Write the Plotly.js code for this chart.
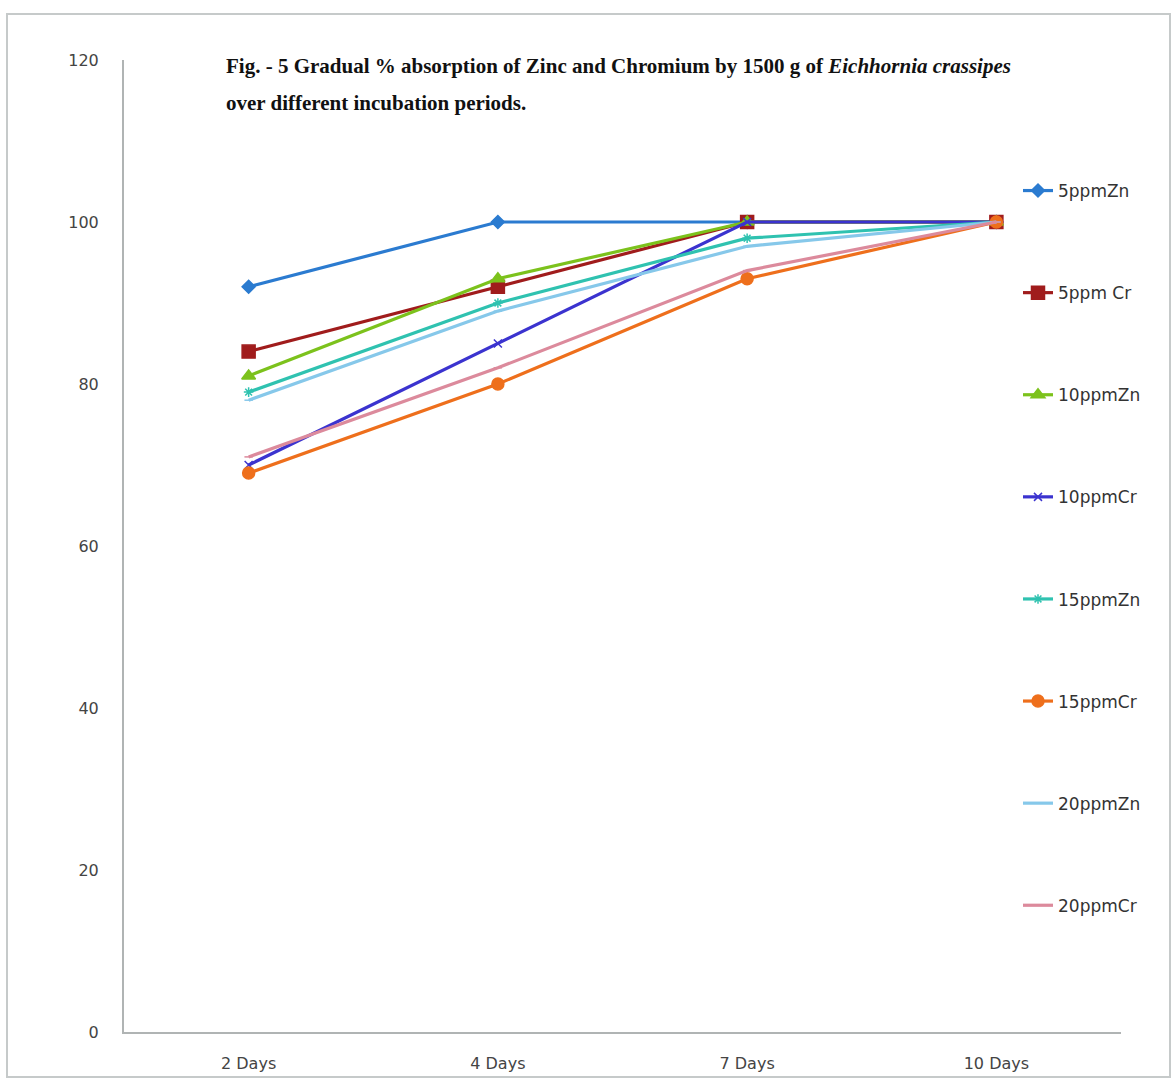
<!DOCTYPE html>
<html>
<head>
<meta charset="utf-8">
<script src="https://cdn.plot.ly/plotly-3.0.1.min.js"></script>
<style>html,body{margin:0;padding:0;background:#fff;}#chart{width:1172px;height:1078px;}</style>
</head>
<body>
<div id="chart"></div>
<script>
const categories = ["2 Days", "4 Days", "7 Days", "10 Days"];
const seriesNames = ["5ppmZn", "5ppm Cr", "10ppmZn", "10ppmCr", "15ppmZn", "15ppmCr", "20ppmZn", "20ppmCr"];
const zn5  = [92, 100, 100, 100];
const cr5  = [84, 92, 100, 100];
const zn10 = [81, 93, 100, 100];
const cr10 = [70, 85, 100, 100];
const zn15 = [79, 90, 98, 100];
const cr15 = [69, 80, 93, 100];
const zn20 = [78, 89, 97, 100];
const cr20 = [71, 82, 94, 100];
const yTicks = [0, 20, 40, 60, 80, 100, 120];
const titleLine1 = "Fig. - 5 Gradual % absorption of Zinc and Chromium by 1500 g of <i>Eichhornia crassipes</i>";
const titleLine2 = "over different incubation periods.";

const seriesValues = [zn5, cr5, zn10, cr10, zn15, cr15, zn20, cr20];
const colors = ["#2b7bd0", "#a01c1c", "#7cc21c", "#3b33cf", "#2fc2b0", "#ee6f1c", "#86c8ea", "#dc8a9c"];
const symbols = ["diamond", "square", "triangle-up", "x-thin-open", "asterisk-open", "circle", "line-ew", "line-ew"];
const sizes = [10, 13, 12, 8, 8, 12, 6, 6];

const traces = seriesValues.map((vals, i) => ({
  x: categories,
  y: vals,
  name: seriesNames[i],
  legendgroup: "g" + i,
  type: "scatter",
  mode: "lines+markers",
  line: {color: colors[i], width: 3.2},
  marker: {color: colors[i], symbol: symbols[i], size: sizes[i], line: {color: colors[i], width: 1.5}}
}));

const PL = 124, PR = 1121, PT = 60, PB = 1032;
const px = v => (v - PL) / (PR - PL);
const py = v => (PB - v) / (PB - PT);
const titleFont = {family: "Liberation Serif, Times New Roman, serif", size: 21, color: "#111", weight: "bold"};

const layout = {
  width: 1172,
  height: 1078,
  paper_bgcolor: "#ffffff",
  plot_bgcolor: "#ffffff",
  margin: {l: PL, r: 1172 - PR, t: PT, b: 1078 - PB},
  showlegend: true,
  xaxis: {
    type: "category",
    range: [-0.5, 3.5],
    showgrid: false,
    zeroline: false,
    showline: true,
    linecolor: "#b0b4b4",
    linewidth: 2,
    ticks: "",
    ticklabelstandoff: 16,
    tickfont: {family: "DejaVu Sans, sans-serif", size: 16, color: "#444"}
  },
  yaxis: {
    range: [0, 120],
    tickvals: yTicks,
    showgrid: false,
    zeroline: false,
    showline: true,
    linecolor: "#b0b4b4",
    linewidth: 2,
    ticks: "",
    ticklabelstandoff: 20,
    tickfont: {family: "DejaVu Sans, sans-serif", size: 16, color: "#444"}
  },
  legend: {
    x: px(1018),
    y: py(173),
    xanchor: "left",
    yanchor: "top",
    bgcolor: "rgba(0,0,0,0)",
    tracegroupgap: 77,
    font: {family: "DejaVu Sans, sans-serif", size: 17, color: "#333"}
  },
  annotations: [
    {text: titleLine1, xref: "paper", yref: "paper", x: px(224), y: py(66), xanchor: "left", yanchor: "middle", showarrow: false, font: titleFont},
    {text: titleLine2, xref: "paper", yref: "paper", x: px(224), y: py(103), xanchor: "left", yanchor: "middle", showarrow: false, font: titleFont}
  ],
  shapes: [{
    type: "rect",
    xref: "paper", yref: "paper",
    x0: px(7), x1: px(1170),
    y0: py(1077), y1: py(14),
    line: {color: "#c6caca", width: 2},
    layer: "below"
  }]
};

Plotly.newPlot("chart", traces, layout, {displayModeBar: false});
</script>
</body>
</html>
